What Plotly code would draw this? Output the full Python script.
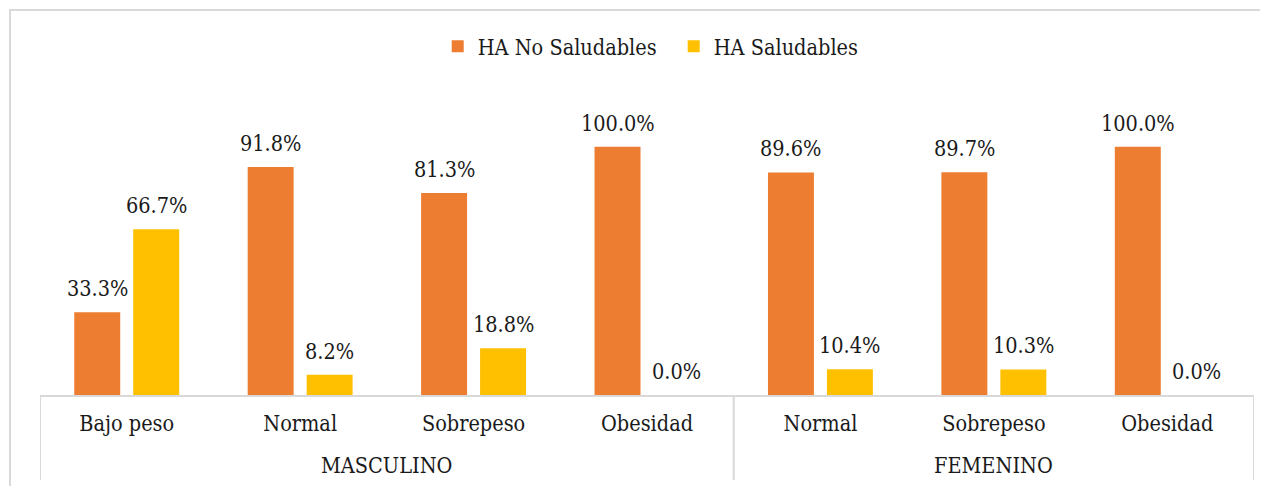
import plotly.graph_objects as go

# datos
sexo = ["MASCULINO"] * 4 + ["FEMENINO"] * 3
imc = ["Bajo peso", "Normal", "Sobrepeso", "Obesidad", "Normal", "Sobrepeso", "Obesidad"]
no_saludables = [33.3, 91.8, 81.3, 100.0, 89.6, 89.7, 100.0]
saludables = [66.7, 8.2, 18.8, 0.0, 10.4, 10.3, 0.0]

FONT = "DejaVu Serif Condensed"
SIZE = 21.5
TXT = "#1a1a1a"

pos = list(range(len(imc)))
ancho = 0.265      # ancho de barra (unidades de categoria)
centro = 0.17      # separacion del centro de cada barra

fig = go.Figure()

fig.add_bar(x=pos, y=no_saludables, name="HA No Saludables", marker_color="#ED7D31",
            width=ancho, offset=-centro - ancho / 2)
fig.add_bar(x=pos, y=saludables, name="HA Saludables", marker_color="#FFC000",
            width=ancho, offset=centro - ancho / 2)
fig.update_traces(marker_line_width=0)

# etiquetas de valores encima de cada barra
for serie, dx in [(no_saludables, -centro), (saludables, centro)]:
    for p, v in zip(pos, serie):
        fig.add_annotation(x=p + dx, y=v, xref="x", yref="y", text=f"{v:.1f}%",
                           showarrow=False, yanchor="bottom", yshift=9,
                           font=dict(family=FONT, size=SIZE, color=TXT))

# la pagina tiene 8px de margen en el body
fig.update_layout(
    width=1268, height=486,
    margin=dict(l=32, r=22, t=89, b=99),
    plot_bgcolor="white",
    paper_bgcolor="white",
    font=dict(family=FONT, size=SIZE, color=TXT),
    barmode="overlay",
    showlegend=True,
)

fig.update_layout(
    legend=dict(
        orientation="h",
        yanchor="middle",
        y=1.17,
        xanchor="center",
        x=0.522,
        entrywidth=191,
        font=dict(family=FONT, size=SIZE),
    ))

fig.update_xaxes(range=[-0.5, len(imc) - 0.5], tickvals=pos, ticktext=imc,
                 showline=True, linecolor="#d9d9d9", linewidth=2,
                 ticks="", showgrid=False, zeroline=False, ticklabelstandoff=8,
                 tickfont=dict(family=FONT, size=SIZE, color=TXT))
fig.update_yaxes(range=[0, 120], visible=False)

# grupos (sexo): etiqueta y separadores
grupos = []
for i, s in enumerate(sexo):
    if not grupos or grupos[-1][0] != s:
        grupos.append([s, i, i])
    else:
        grupos[-1][2] = i

bordes = [grupos[0][1] - 0.5] + [g[2] + 0.5 for g in grupos]
for b in bordes:
    fig.add_shape(type="line", xref="x", yref="paper", x0=b, x1=b, y0=0, y1=-0.285,
                  line=dict(color="#d9d9d9", width=2))
for s, a, z in grupos:
    fig.add_annotation(x=(a + z) / 2, y=-0.238, xref="x", yref="paper", text=s,
                       showarrow=False, yanchor="middle",
                       font=dict(family=FONT, size=SIZE, color=TXT))

# marco exterior gris
fig.add_shape(type="rect", xref="paper", yref="paper",
              x0=-0.0247, x1=1.2, y0=-0.5, y1=1.292,
              line=dict(color="#d9d9d9", width=2), layer="below")

fig.write_html("out.html")
